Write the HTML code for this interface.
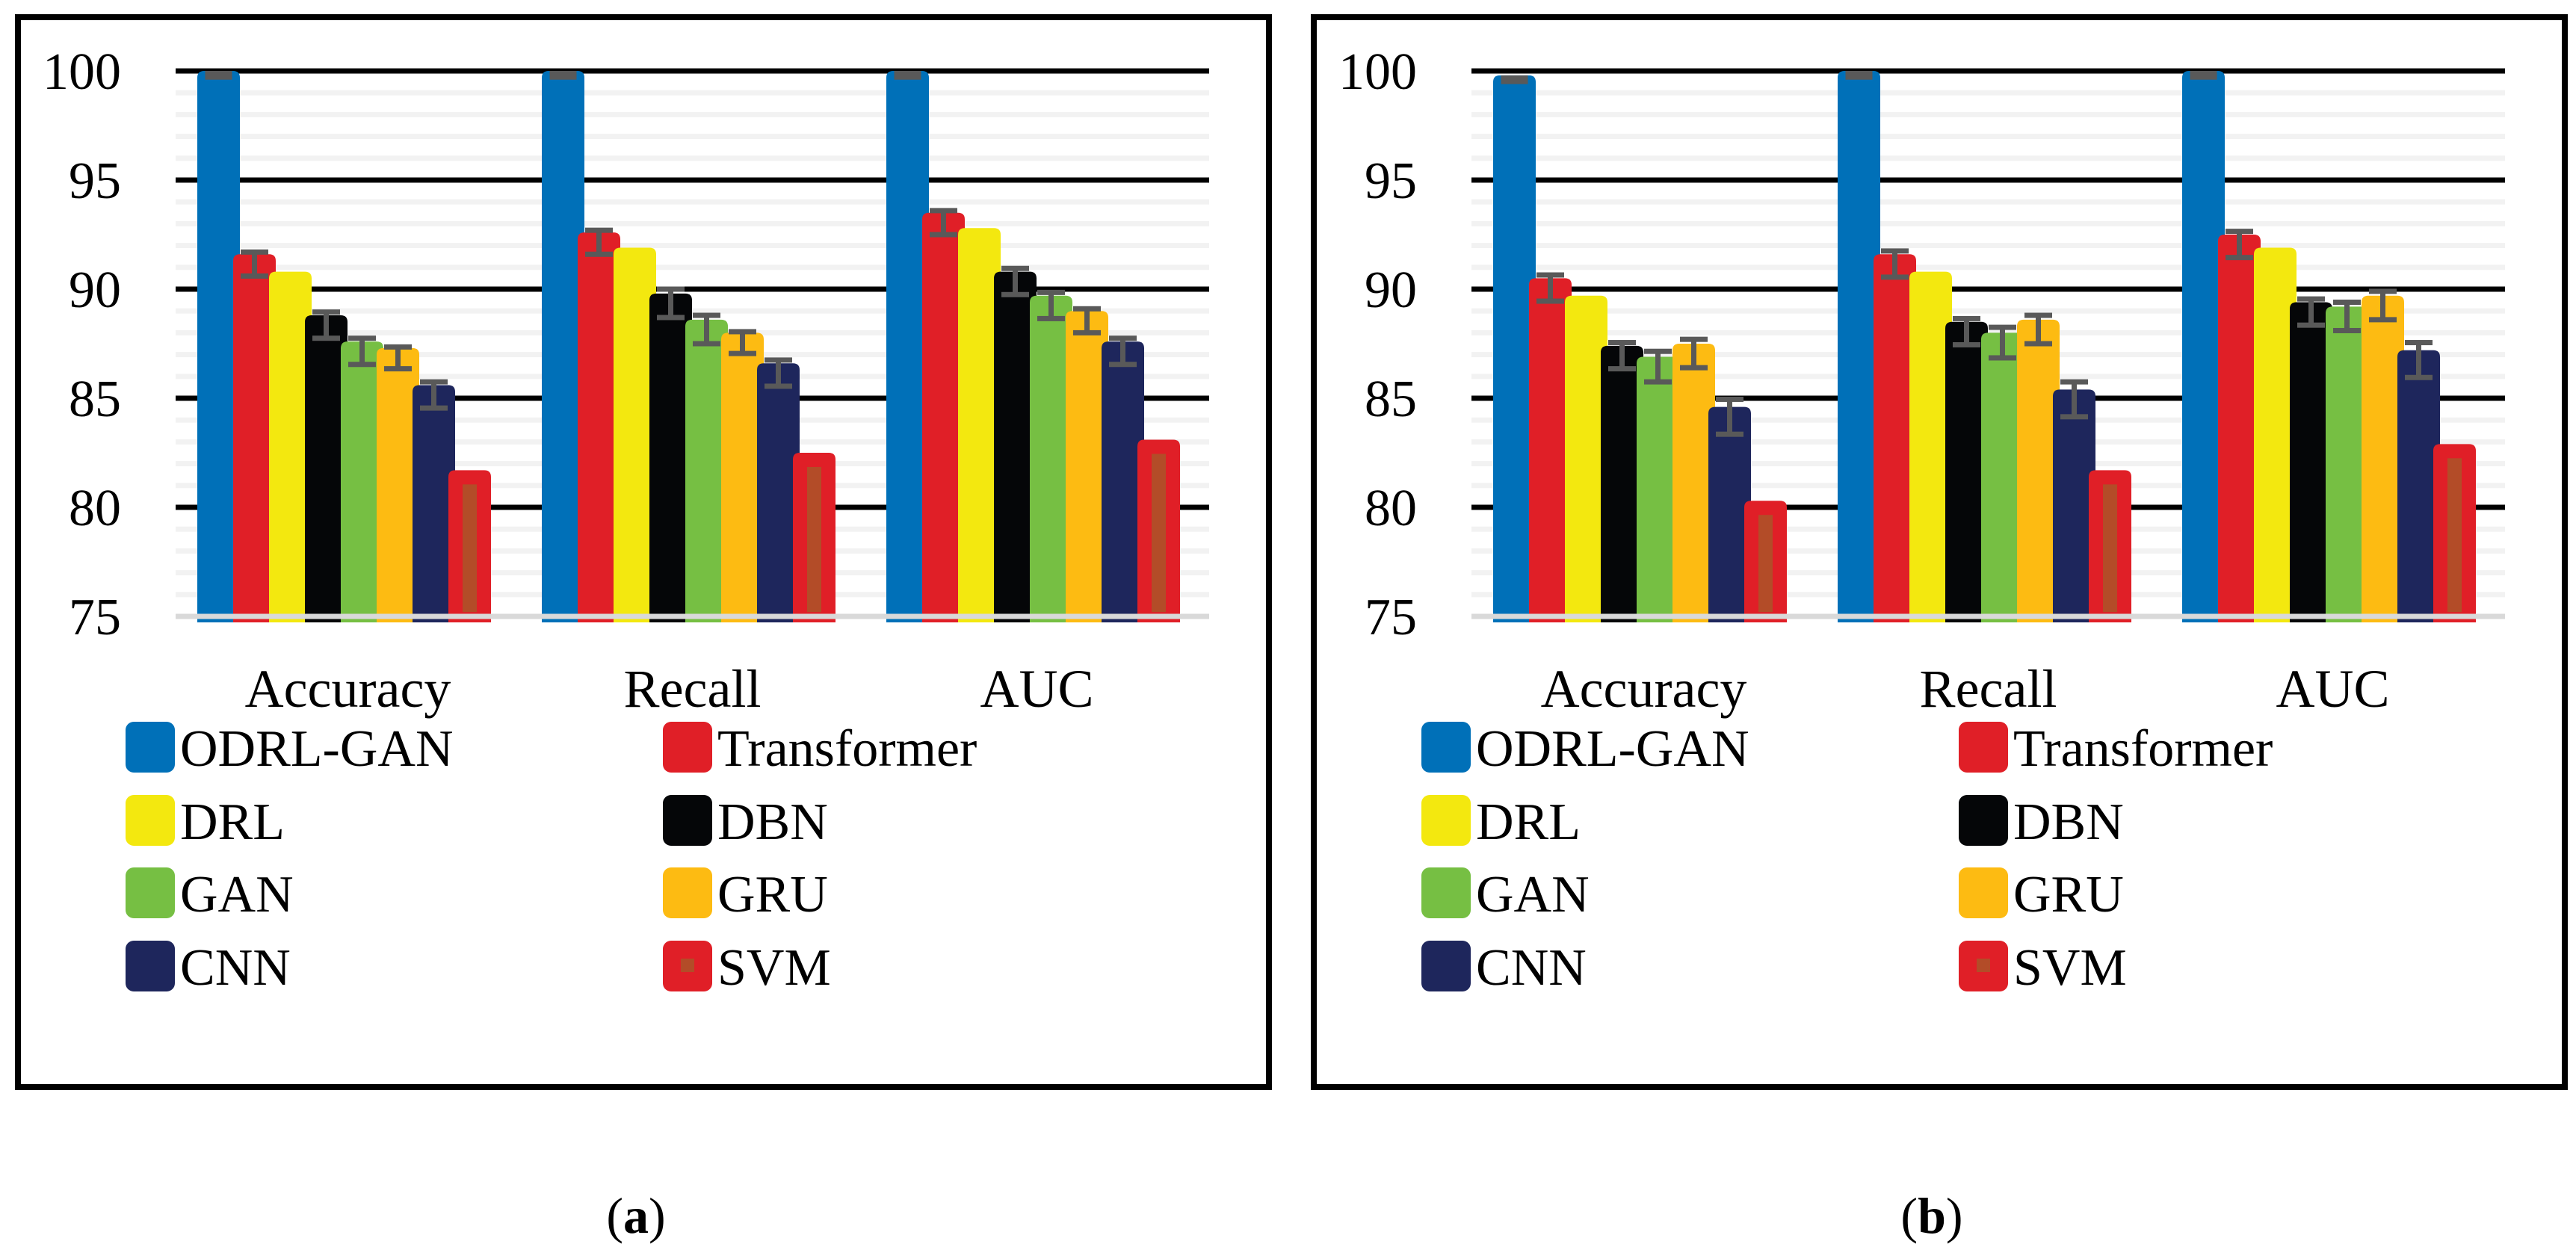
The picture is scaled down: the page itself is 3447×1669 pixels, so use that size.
<!DOCTYPE html>
<html><head><meta charset="utf-8"><title>Model comparison charts</title>
<style>
html,body{margin:0;padding:0;background:#fff;}
svg{display:block;}
text{font-family:"Liberation Serif","DejaVu Serif",serif;fill:#000;}
</style></head>
<body>
<svg id="fig" width="3447" height="1669" viewBox="0 0 3447 1669" xmlns="http://www.w3.org/2000/svg"></svg>
<script>
const categories = ["Accuracy","Recall","AUC"];
const seriesNames = ["ODRL-GAN","Transformer","DRL","DBN","GAN","GRU","CNN","SVM"];
const seriesColors = ["#0070b8","#e01f27","#f3e80f","#050608","#76bf43","#fdbb12","#1e265c","#e01f27"];
const yTicks = [75,80,85,90,95,100];
// panel (a) values: rows = series, cols = categories
const valuesA = [
  [100,100,100],
  [91.6,92.6,93.5],
  [90.8,91.9,92.8],
  [88.8,89.8,90.8],
  [87.6,88.6,89.7],
  [87.3,88.0,89.0],
  [85.6,86.6,87.6],
  [81.7,82.5,83.1]
];
const errorsA = [
  [0.3,0.3,0.3],
  [0.55,0.55,0.55],
  [0,0,0],
  [0.6,0.65,0.6],
  [0.6,0.65,0.6],
  [0.5,0.5,0.55],
  [0.6,0.6,0.6],
  [0,0,0]
];
const valuesB = [
  [99.8,100,100],
  [90.5,91.6,92.5],
  [89.7,90.8,91.9],
  [87.4,88.5,89.4],
  [86.9,88.0,89.2],
  [87.5,88.6,89.7],
  [84.6,85.4,87.2],
  [80.3,81.7,82.9]
];
const errorsB = [
  [0.3,0.3,0.3],
  [0.6,0.6,0.6],
  [0,0,0],
  [0.6,0.6,0.6],
  [0.7,0.7,0.65],
  [0.65,0.65,0.65],
  [0.8,0.8,0.8],
  [0,0,0]
];
const panelLabels = ["a","b"];

const NS="http://www.w3.org/2000/svg";
const svg=document.getElementById('fig');
function mk(tag,attrs,parent){const e=document.createElementNS(NS,tag);for(const k in attrs)e.setAttribute(k,attrs[k]);(parent||svg).appendChild(e);return e;}

function drawPanel(dx, values, errors, label){
  const g=mk('g',{});
  
  
  const yMin=75,yMax=100,yTop=95,yBot=825;
  const y=v=>yBot-(v-yMin)/(yMax-yMin)*(yBot-yTop);
  const plotL=235+dx, plotR=1618+dx;
  const catW=(plotR-plotL)/categories.length;
  const barW=57, step=48;
  const border=mk('rect',{x:24+dx,y:23,width:1674,height:1432,fill:'none',stroke:'#000','stroke-width':8},g);
  
  
  for(let v=yMin+1;v<yMax;v++){
    if(v%5===0)continue;
    const l=mk('rect',{x:plotL,y:y(v)-3.5,width:plotR-plotL,height:7,fill:'#f2f2f2'},g);
    
    
  }
  yTicks.forEach(t=>{
    if(t>yMin){
      const l=mk('rect',{x:plotL,y:y(t)-3.5,width:plotR-plotL,height:7,fill:'#000'},g);
      
      
    }
    const tx=mk('text',{x:162+dx,y:y(t)+24,'text-anchor':'end','font-size':70},g);
    tx.textContent=t;
    
    
  });
  categories.forEach((c,ci)=>{
    const gx=plotL+ci*catW+29;
    seriesNames.forEach((s,si)=>{
      const v=values[si][ci];
      const x=gx+si*step;
      const top=y(v), h=(yBot+8)-top, r=9;
      const p=mk('path',{d:`M${x},${top+h} L${x},${top+r} Q${x},${top} ${x+r},${top} L${x+barW-r},${top} Q${x+barW},${top} ${x+barW},${top+r} L${x+barW},${top+h} Z`,fill:seriesColors[si]},g);
      
      
      const cx=x+barW/2;
      const e=errors[si][ci];
      if(si===0){
        const m=mk('rect',{x:cx-18,y:top,width:36,height:y(v-0.4)-top,fill:'#595959'},g);
        
        
      } else if(si===7){
        const m=mk('rect',{x:cx-9.5,y:y(v-0.65),width:19,height:y(75.2)-y(v-0.65),fill:'#b34c28'},g);
        
        
      } else if(e>0){
        const m=v-0.45;
        const eg=mk('g',{fill:'#595959'},g);
        
        
        mk('rect',{x:cx-3.5,y:y(m+e),width:7,height:y(m-e)-y(m+e)},eg);
        mk('rect',{x:cx-18.5,y:y(m+e)-3.5,width:37,height:7},eg);
        mk('rect',{x:cx-18.5,y:y(m-e)-3.5,width:37,height:7},eg);
      }
    });
    const cl=mk('text',{x:plotL+ci*catW+catW/2,y:946,'text-anchor':'middle','font-size':72},g);
    cl.textContent=c;
    
    
  });
  const base=mk('rect',{x:plotL,y:yBot-3.5,width:plotR-plotL,height:7,fill:'#d9d9d9'},g);
  
  
  const rows=[1000,1098,1195,1293];
  seriesNames.forEach((s,si)=>{
    const col=si%2,row=Math.floor(si/2);
    const sx=(col?887:168)+dx, cy=rows[row];
    const lg=mk('g',{},g);
    
    
    mk('rect',{x:sx,y:cy-34,width:66,height:68,rx:11,fill:seriesColors[si]},lg);
    if(si===7) mk('rect',{x:sx+24,y:cy-10,width:18,height:18,fill:'#b34c28'},lg);
    const t=mk('text',{x:sx+73,y:cy+25,'font-size':70},lg);
    t.textContent=s;
  });
  const cap=mk('text',{x:851+dx,y:1650,'text-anchor':'middle','font-size':68},g);
  
  
  cap.innerHTML='(<tspan font-weight="bold">'+label+'</tspan>)';
}
drawPanel(0, valuesA, errorsA, panelLabels[0]);
drawPanel(1734, valuesB, errorsB, panelLabels[1]);
</script>
</body></html>
